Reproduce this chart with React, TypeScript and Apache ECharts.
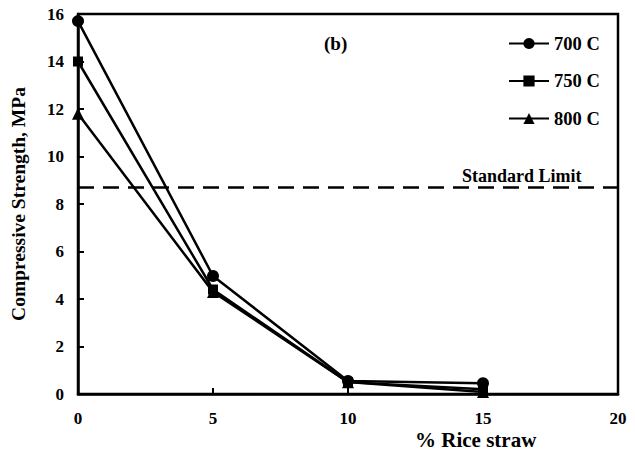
import React, { useEffect, useRef } from "react";
import * as echarts from "echarts";

const xValues = [0, 5, 10, 15];
const s700 = [15.7, 4.97, 0.55, 0.45];
const s750 = [14.0, 4.4, 0.5, 0.2];
const s800 = [11.8, 4.3, 0.5, 0.08];
const seriesNames = ["700 C", "750 C", "800 C"];
const standardLimit = 8.7;

const FONT = "'Liberation Serif', 'Times New Roman', serif";

export default function App() {
  const ref = useRef<HTMLDivElement>(null);
  useEffect(() => {
    document.body.style.margin = "0";
    if (!ref.current) return;
    const chart = echarts.init(ref.current, undefined, { renderer: "svg" });
    const mk = (vals: number[]) => xValues.map((x, i) => [x, vals[i]]);
    const common = {
      type: "line",
      lineStyle: { color: "#000", width: 2.5 },
      itemStyle: { color: "#000" },
      showSymbol: true,
    };
    chart.setOption({
      animation: false,
      backgroundColor: "#fff",
      grid: {
        left: 78,
        right: 17,
        top: 14,
        bottom: 62,
        show: true,
        borderColor: "#000",
        borderWidth: 2.5,
      },
      legend: {
        orient: "vertical",
        left: 503,
        top: 29,
        itemWidth: 40,
        itemHeight: 14,
        itemGap: 18.5,
        data: seriesNames,
        textStyle: { fontFamily: FONT, fontWeight: "bold", fontSize: 18.5, color: "#000" },
      },
      xAxis: {
        type: "value",
        min: 0,
        max: 20,
        interval: 5,
        axisLine: { lineStyle: { color: "#000", width: 2.5 } },
        axisTick: { inside: true, length: 6, lineStyle: { color: "#000", width: 2 } },
        splitLine: { show: false },
        axisLabel: { margin: 16, fontFamily: FONT, fontWeight: "bold", fontSize: 17, color: "#000" },
      },
      yAxis: {
        type: "value",
        min: 0,
        max: 16,
        interval: 2,
        name: "Compressive Strength, MPa",
        nameLocation: "middle",
        nameGap: 50,
        nameTextStyle: { fontFamily: FONT, fontWeight: "bold", fontSize: 19.5, color: "#000" },
        axisLine: { lineStyle: { color: "#000", width: 2.5 } },
        axisTick: { inside: true, length: 6, lineStyle: { color: "#000", width: 2 } },
        splitLine: { show: false },
        axisLabel: { margin: 14, fontFamily: FONT, fontWeight: "bold", fontSize: 17, color: "#000" },
      },
      graphic: [
        {
          type: "text",
          left: 324,
          top: 34,
          style: { text: "(b)", font: `bold 19px ${FONT}`, fill: "#000" },
        },
        {
          type: "text",
          left: 415,
          top: 429,
          style: { text: "% Rice straw", font: `bold 21px ${FONT}`, fill: "#000" },
        },
        {
          type: "text",
          left: 462,
          top: 167,
          style: { text: "Standard Limit", font: `bold 18px ${FONT}`, fill: "#000" },
        },
      ],
      series: [
        {
          ...common,
          name: seriesNames[0],
          data: mk(s700),
          symbol: "circle",
          symbolSize: 12,
          markLine: {
            silent: true,
            symbol: "none",
            lineStyle: { color: "#000", width: 2.5, type: [16, 9] },
            label: { show: false },
            data: [{ yAxis: standardLimit }],
          },
        },
        { ...common, name: seriesNames[1], data: mk(s750), symbol: "rect", symbolSize: 10 },
        { ...common, name: seriesNames[2], data: mk(s800), symbol: "triangle", symbolSize: 12 },
      ],
    });
    return () => chart.dispose();
  }, []);
  return <div ref={ref} style={{ width: 635, height: 456 }} />;
}
